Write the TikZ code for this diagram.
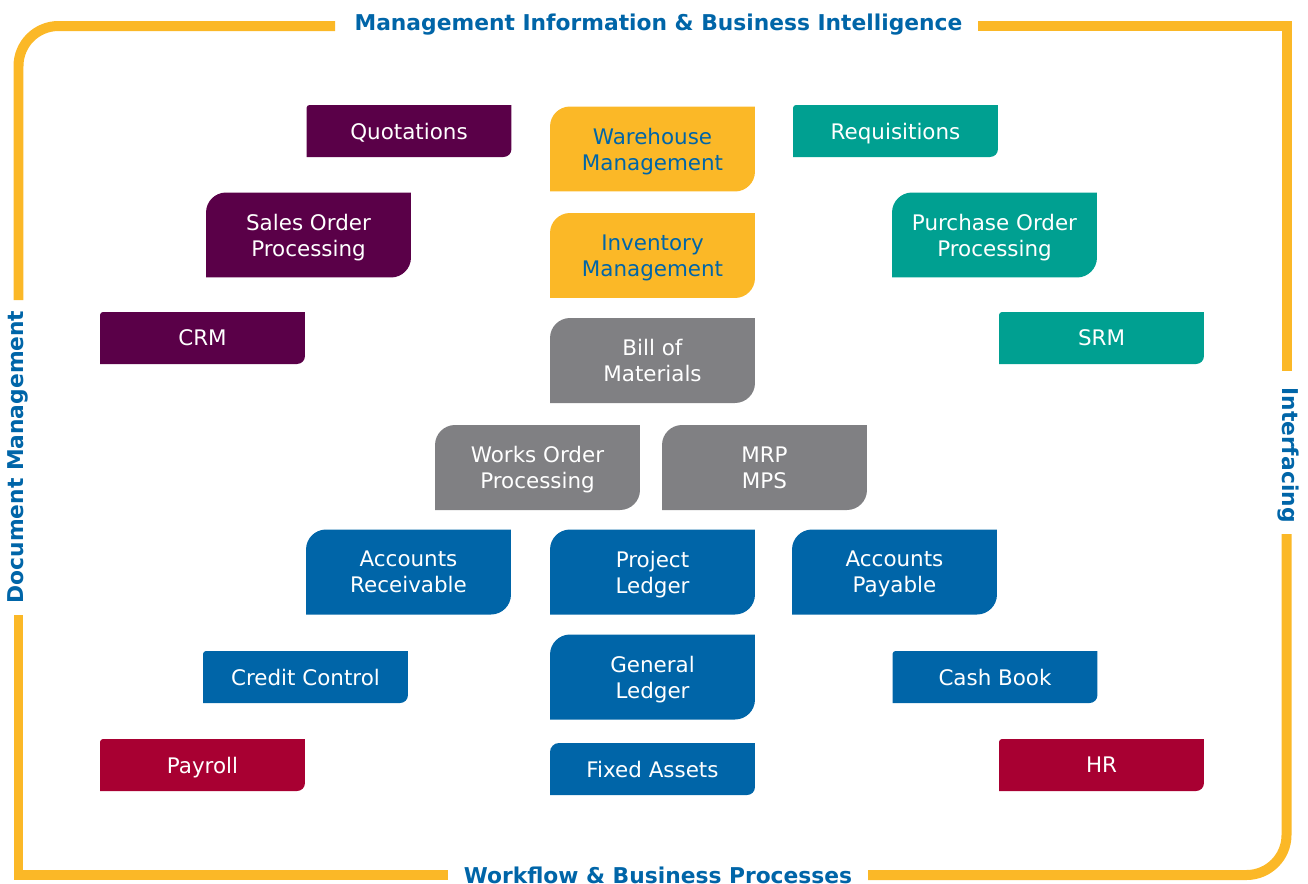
\documentclass[tikz,border=0pt]{standalone}
\usepackage{fontspec}
\setmainfont{DejaVu Sans}
\usepackage{tikz}

\definecolor{modpurple}{RGB}{90,0,72}
\definecolor{modyellow}{RGB}{251,184,39}
\definecolor{modteal}{RGB}{0,160,145}
\definecolor{modgrey}{RGB}{128,128,131}
\definecolor{modblue}{RGB}{0,101,168}
\definecolor{modred}{RGB}{168,0,50}

\begin{document}
\begin{tikzpicture}[x=0.02cm, y=0.02cm,
				   every node/.style={inner sep=0pt, align=center, font=\fontsize{12.2}{14.8}\selectfont},
				   module/.style n args={3}{minimum width=4.1cm, text=white, text depth=0pt,
				     path picture={\fill[#1] ([yshift=-#2]path picture bounding box.north west)
				       arc[start angle=180, end angle=90, radius=#2]
				       -- (path picture bounding box.north east)
				       -- ([yshift=#3]path picture bounding box.south east)
				       arc[start angle=0, end angle=-90, radius=#3]
				       -- (path picture bounding box.south west) -- cycle;}},
				   single/.style={module={#1}{0.06cm}{0.16cm}, minimum height=1.04cm},
				   double/.style={module={#1}{0.4cm}{0.4cm}, minimum height=1.7cm},
				   heading/.style={text=modblue, font=\fontsize{12.4}{15}\selectfont\bfseries},
				   frame/.style={modyellow, line width=0.2cm}]

\useasboundingbox (0,0) rectangle (1308,-883);

\draw[frame, rounded corners=0.8cm] (18.5,-300) -- (18.5,-26) -- (335,-26);
\draw[frame] (978,-26) -- (1286.5,-26) -- (1286.5,-371);
\draw[frame, rounded corners=0.8cm] (1286.5,-534) -- (1286.5,-875) -- (868,-875);
\draw[frame] (448,-875) -- (18.5,-875) -- (18.5,-615);

\node[heading, anchor=base] (mi) at (658.5,-30) {Management Information \& Business Intelligence};
\node[heading, anchor=base] (wf) at (658,-883) {Workflow \& Business Processes};
\node[heading, rotate=90] (dm) at (18,-457) {Document Management};
\node[heading, rotate=-90] (ifc) at (1288,-455) {Interfacing};

\node[single=modpurple] (quot) at (409,-131) {Quotations};
\node[double=modpurple] (sop) at (308.5,-235) {Sales Order\\Processing};
\node[single=modpurple] (crm) at (202.5,-338) {CRM};

\node[double=modyellow, text=modblue] (whm) at (652.5,-149) {Warehouse\\Management};
\node[double=modyellow, text=modblue] (inv) at (652.5,-255.5) {Inventory\\Management};

\node[single=modteal] (req) at (895.5,-131) {Requisitions};
\node[double=modteal] (pop) at (994.5,-235) {Purchase Order\\Processing};
\node[single=modteal] (srm) at (1101.5,-338) {SRM};

\node[double=modgrey] (bom) at (652.5,-360.5) {Bill of\\Materials};
\node[double=modgrey] (wop) at (537.5,-467.5) {Works Order\\Processing};
\node[double=modgrey] (mrp) at (764.5,-467.5) {MRP\\MPS};

\node[double=modblue] (ar) at (408.5,-572) {Accounts\\Receivable};
\node[double=modblue] (pl) at (652.5,-572) {Project\\Ledger};
\node[double=modblue] (ap) at (894.5,-572) {Accounts\\Payable};
\node[single=modblue] (cc) at (305.5,-677) {Credit Control};
\node[double=modblue] (gl) at (652.5,-677) {General\\Ledger};
\node[single=modblue] (cb) at (995,-677) {Cash Book};
\node[single=modblue, module={modblue}{0.18cm}{0.16cm}] (fa) at (652.5,-769) {Fixed Assets};

\node[single=modred] (pay) at (202.5,-765) {Payroll};
\node[single=modred] (hr) at (1101.5,-765) {HR};

\end{tikzpicture}
\end{document}
